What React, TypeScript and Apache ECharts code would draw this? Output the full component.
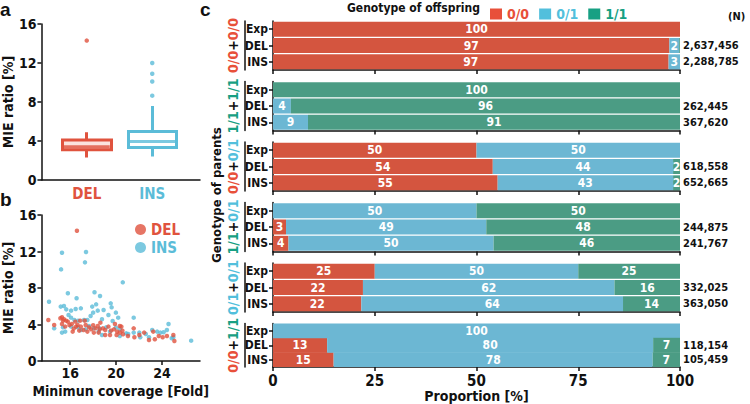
import React, { useEffect, useRef } from "react";
import * as echarts from "echarts";

const FONT = '"Liberation Sans Narrow", "DejaVu Sans Condensed", "Roboto", sans-serif';
const INK = "#111111";

// ---- panel a: box plot ----
const boxCategories = ["DEL", "INS"];
// [min, q1, median, q3, max]
const delBox = [2.3, 3.1, 3.4, 4.1, 4.9];
const insBox = [2.4, 3.33, 3.95, 4.97, 7.6];
const delOutliers = [14.3];
const insOutliers = [12.0, 10.9, 10.1, 8.65];

// ---- panel b: scatter (min coverage, MIE ratio) ----
const delPoints = [
  [16.59, 14.28], [14.1, 4.5], [14.61, 3.95], [15.15, 4.68], [15.29, 4.79], [15.46, 4.57], [15.66, 4.42],
  [15.29, 4.06], [15.57, 3.77], [15.8, 4.31], [15.94, 3.95], [16.14, 4.06], [16.31, 3.55], [16.45, 4.31],
  [16.65, 3.95], [16.87, 4.42], [16.93, 3.77], [17.16, 3.4], [17.27, 4.42], [17.35, 3.95], [17.64, 3.69],
  [17.83, 3.47], [18.0, 3.91], [18.2, 3.58], [18.4, 3.84], [18.57, 3.47], [18.85, 3.58], [19.05, 3.4],
  [19.33, 3.77], [19.56, 3.33], [19.81, 3.47], [20.09, 3.22], [20.46, 3.77], [20.55, 3.33], [20.6, 2.93],
  [21.03, 2.74], [21.53, 3.58], [21.59, 2.6], [22.02, 2.85], [22.44, 3.11], [22.86, 2.3], [23.23, 3.22],
  [23.37, 2.38], [23.71, 2.74], [24.05, 2.6], [24.42, 2.74], [24.98, 2.85], [25.07, 2.19], [15.38, 4.42],
  [16.22, 3.22], [17.5, 3.22], [18.06, 3.11], [18.48, 3.11], [19.05, 2.85], [19.47, 2.85], [20.04, 2.85],
  [20.32, 3.11], [16.79, 3.33], [19.9, 4.06], [20.32, 3.84], [16.51, 3.77], [18.63, 4.2],
];
const insPoints = [
  [15.29, 11.87], [17.38, 11.94], [17.29, 10.81], [15.21, 10.04], [20.58, 8.62], [14.16, 6.5], [15.8, 7.42],
  [18.12, 7.53], [18.6, 7.13], [16.56, 6.87], [15.18, 5.96], [15.46, 6.03], [15.66, 5.66], [16.08, 5.52],
  [16.48, 5.7], [16.93, 5.77], [17.92, 5.96], [18.26, 6.21], [19.53, 6.32], [19.61, 5.88], [18.4, 5.52],
  [18.91, 5.59], [18.0, 5.3], [19.98, 5.3], [17.78, 4.93], [19.33, 5.04], [20.18, 4.75], [19.7, 4.39],
  [21.53, 4.75], [18.77, 4.57], [17.5, 4.5], [17.21, 4.5], [15.86, 5.04], [16.08, 4.75], [16.37, 4.5],
  [16.7, 4.42], [14.61, 3.58], [15.38, 3.69], [15.57, 3.22], [16.08, 3.77], [16.65, 3.69], [16.93, 3.4],
  [17.35, 3.47], [17.64, 3.84], [18.48, 3.22], [18.77, 2.85], [19.13, 3.69], [19.47, 3.22], [19.98, 3.66],
  [20.32, 3.51], [20.88, 3.03], [21.05, 2.96], [21.53, 3.11], [22.02, 3.11], [22.1, 2.6], [22.58, 2.96],
  [22.86, 2.6], [23.14, 3.4], [23.57, 3.22], [23.85, 3.11], [24.13, 3.15], [24.42, 3.4], [24.56, 4.06],
  [24.84, 2.49], [24.98, 2.6], [26.53, 2.23], [18.57, 3.58], [18.06, 3.58], [20.32, 2.74], [15.29, 3.11],
];
const coverageTicks = [16, 20, 24];

// ---- panel c: stacked proportions ----
const rowLabels = ["Exp", "DEL", "INS"];
const genotypeNames = ["0/0", "0/1", "1/1"];
const parentGroups = [
  ["0/0", "0/0"],
  ["1/1", "1/1"],
  ["0/0", "0/1"],
  ["1/1", "0/1"],
  ["0/1", "0/1"],
  ["0/0", "1/1"],
];
const homRef = [[100, 97.4, 97.2], [0, 0, 0], [50, 54, 55.2], [0, 3.2, 3.8], [25, 22.1, 21.7], [0, 13.3, 14.9]];
const het = [[0, 2.4, 2.8], [0, 4.4, 8.6], [50, 44.3, 43.1], [50, 49.2, 50.4], [50, 61.8, 64.3], [100, 80.1, 78.4]];
const homAlt = [[0, 0.2, 0], [100, 95.6, 91.4], [0, 1.7, 1.7], [50, 47.6, 45.8], [25, 16.1, 14.0], [0, 6.6, 6.7]];
const nCounts = [
  ["", "2,637,456", "2,288,785"],
  ["", "262,445", "367,620"],
  ["", "618,558", "652,665"],
  ["", "244,875", "241,767"],
  ["", "332,025", "363,050"],
  ["", "118,154", "105,459"],
];

const BAR_COLORS = ["#d4553f", "#6cb7d3", "#4b9c84"];
const KEY_COLORS = ["#e8503a", "#52bfdc", "#17a083"];
const DEL_COLOR = "#e0533e";
const INS_COLOR = "#5bbcd8";

export default function App() {
  const ref = useRef<HTMLDivElement>(null);

  useEffect(() => {
    if (!ref.current) return;
    const chart = echarts.init(ref.current, null, { renderer: "svg" });

    const bold = (size: number, color = INK) => ({
      fontFamily: FONT,
      fontWeight: "bold" as const,
      fontSize: size,
      color,
    });
    const axisLine = { show: true, lineStyle: { color: INK, width: 1.5 } };
    const tick = { show: true, length: 4, lineStyle: { color: INK, width: 1.5 } };

    const grids: any[] = [
      { left: 38, top: 24, width: 162, height: 156 },
      { left: 54, top: 24, width: 131, height: 156 },
      { left: 38, top: 215, width: 162, height: 146 },
    ];
    const xAxes: any[] = [
      { gridIndex: 0, type: "value", min: 0, max: 1, axisLine, axisTick: { show: false }, axisLabel: { show: false }, splitLine: { show: false } },
      {
        gridIndex: 1, type: "category", data: boxCategories,
        axisLine: { show: false }, axisTick: { show: false },
        axisLabel: { ...bold(15), margin: 6, interval: 0, color: (v: string) => (v === "DEL" ? DEL_COLOR : INS_COLOR) },
      },
      {
        gridIndex: 2, type: "value", min: 13.5, max: 27.3,
        axisLine, splitLine: { show: false },
        axisTick: { ...tick, customValues: coverageTicks },
        axisLabel: { ...bold(14), margin: 5, customValues: coverageTicks },
        name: "Minimun coverage [Fold]", nameLocation: "middle", nameGap: 23,
        nameTextStyle: bold(14),
      },
    ];
    const yAxes: any[] = [
      {
        gridIndex: 0, type: "value", min: 0, max: 16, interval: 4,
        axisLine, axisTick: tick, splitLine: { show: false },
        axisLabel: { ...bold(14), margin: 5 },
        name: "MIE ratio [%]", nameLocation: "middle", nameGap: 22, nameTextStyle: bold(14),
      },
      { gridIndex: 1, type: "value", min: 0, max: 16, show: false },
      {
        gridIndex: 2, type: "value", min: 0, max: 16, interval: 4,
        axisLine, axisTick: tick, splitLine: { show: false },
        axisLabel: { ...bold(14), margin: 5 },
        name: "MIE ratio [%]", nameLocation: "middle", nameGap: 22, nameTextStyle: bold(14),
      },
    ];

    const series: any[] = [
      {
        type: "candlestick", xAxisIndex: 1, yAxisIndex: 1, barWidth: 49,
        itemStyle: { borderWidth: 3 },
        data: [
          { value: [delBox[1], delBox[3], delBox[0], delBox[4]], itemStyle: { color: "#fbe3de", borderColor: DEL_COLOR, color0: "#fff", borderColor0: DEL_COLOR } },
          { value: [insBox[1], insBox[3], insBox[0], insBox[4]], itemStyle: { color: "#fff", borderColor: INS_COLOR, color0: "#fff", borderColor0: INS_COLOR } },
        ],
      },
      {
        type: "scatter", name: "median", xAxisIndex: 1, yAxisIndex: 1, symbol: "rect", symbolSize: [46, 3],
        data: [
          { value: ["DEL", delBox[2]], itemStyle: { color: DEL_COLOR } },
          { value: ["INS", insBox[2]], itemStyle: { color: INS_COLOR } },
        ],
      },
      {
        type: "scatter", name: "outliers", xAxisIndex: 1, yAxisIndex: 1, symbolSize: 4.5,
        data: [
          ...delOutliers.map((v) => ({ value: ["DEL", v], itemStyle: { color: DEL_COLOR } })),
          ...insOutliers.map((v) => ({ value: ["INS", v], itemStyle: { color: INS_COLOR } })),
        ],
      },
      { type: "scatter", name: "INS", xAxisIndex: 2, yAxisIndex: 2, symbolSize: 4.5, itemStyle: { color: INS_COLOR }, data: insPoints },
      { type: "scatter", name: "DEL", xAxisIndex: 2, yAxisIndex: 2, symbolSize: 4.5, itemStyle: { color: DEL_COLOR }, data: delPoints },
    ];

    const richKey: Record<string, string> = { "0/0": "r", "0/1": "b", "1/1": "g" };
    const rich = {
      r: bold(14, KEY_COLORS[0]),
      b: bold(14, KEY_COLORS[1]),
      g: bold(14, KEY_COLORS[2]),
      p: bold(14, INK),
    };

    const shares = [homRef, het, homAlt];
    parentGroups.forEach((pg, k) => {
      const gi = 3 + k;
      const last = k === parentGroups.length - 1;
      grids.push({ left: 273, top: 21 + 60.5 * k, width: 407, height: 49 });
      xAxes.push({
        gridIndex: gi, type: "value", min: 0, max: 100, interval: 25,
        axisLine, axisTick: tick, splitLine: { show: false },
        axisLabel: { show: last, ...bold(15), margin: 6 },
        ...(last ? { name: "Proportion [%]", nameLocation: "middle", nameGap: 19, nameTextStyle: bold(14) } : {}),
      });
      const yBase = yAxes.length;
      yAxes.push({
        gridIndex: gi, type: "category", data: rowLabels, inverse: true, position: "left",
        axisLine, axisTick: { ...tick, alignWithLabel: true },
        axisLabel: { ...bold(12), margin: 5, interval: 0 },
      });
      yAxes.push({
        gridIndex: gi, type: "category", data: nCounts[k], inverse: true, position: "right",
        axisLine: { show: false }, axisTick: { show: false },
        axisLabel: { ...bold(11), margin: 3, interval: 0 },
      });
      yAxes.push({
        gridIndex: gi, type: "category", data: rowLabels, inverse: true, position: "left", offset: 28,
        axisLine, axisTick: { show: false }, axisLabel: { show: false },
        name: `{${richKey[pg[0]]}|${pg[0]}}{p|+}{${richKey[pg[1]]}|${pg[1]}}`,
        nameLocation: "middle", nameRotate: 90, nameGap: 5,
        nameTextStyle: { ...bold(14), rich },
      });
      genotypeNames.forEach((gname, s) => {
        series.push({
          type: "bar", name: gname, stack: "g" + k, xAxisIndex: gi, yAxisIndex: yBase,
          barWidth: 15,
          itemStyle: { color: BAR_COLORS[s] },
          label: {
            show: true, position: "inside", ...bold(12, "#ffffff"),
            formatter: (p: any) => (p.value >= 1.5 ? String(Math.round(p.value)) : ""),
          },
          data: shares[s][k],
        });
      });
    });

    const txt = (text: string, x: number, y: number, size: number, extra: any = {}) => ({
      type: "text", x, y, silent: true, ...extra,
      style: { text, fill: INK, fontFamily: FONT, fontWeight: "bold", fontSize: size, ...(extra.style || {}) },
    });
    const letterFont = { style: { fontFamily: "Liberation Sans, Arial, sans-serif" } };

    chart.setOption({
      animation: false,
      textStyle: { fontFamily: FONT },
      grid: grids,
      xAxis: xAxes,
      yAxis: yAxes,
      legend: [
        {
          data: genotypeNames.map((n, i) => ({ name: n, itemStyle: { color: KEY_COLORS[i] }, textStyle: bold(14, KEY_COLORS[i]) })),
          left: 490, top: 7, icon: "rect", itemWidth: 12, itemHeight: 11, itemGap: 10, selectedMode: false,
          textStyle: bold(14), padding: 0,
        },
        {
          data: [
            { name: "DEL", textStyle: bold(15, DEL_COLOR) },
            { name: "INS", textStyle: bold(15, INS_COLOR) },
          ],
          orient: "vertical", left: 135, top: 222, icon: "circle", itemWidth: 11, itemHeight: 11, itemGap: 3,
          selectedMode: false, padding: 0, textStyle: bold(15),
        },
      ],
      series,
      graphic: [
        txt("a", 0, 0, 19, letterFont),
        txt("b", 0, 190, 19, letterFont),
        txt("c", 200, 0, 19, letterFont),
        txt("Genotype of offspring", 347, 2, 12),
        txt("(N)", 728, 11, 11),
        txt("Genotype of parents", 216, 195, 13, {
          rotation: Math.PI / 2,
          style: { align: "center", verticalAlign: "middle", textAlign: "center", textVerticalAlign: "middle" },
        }),
      ],
    });

    return () => chart.dispose();
  }, []);

  return <div ref={ref} style={{ position: "absolute", left: 0, top: 0, width: 750, height: 404 }} />;
}
